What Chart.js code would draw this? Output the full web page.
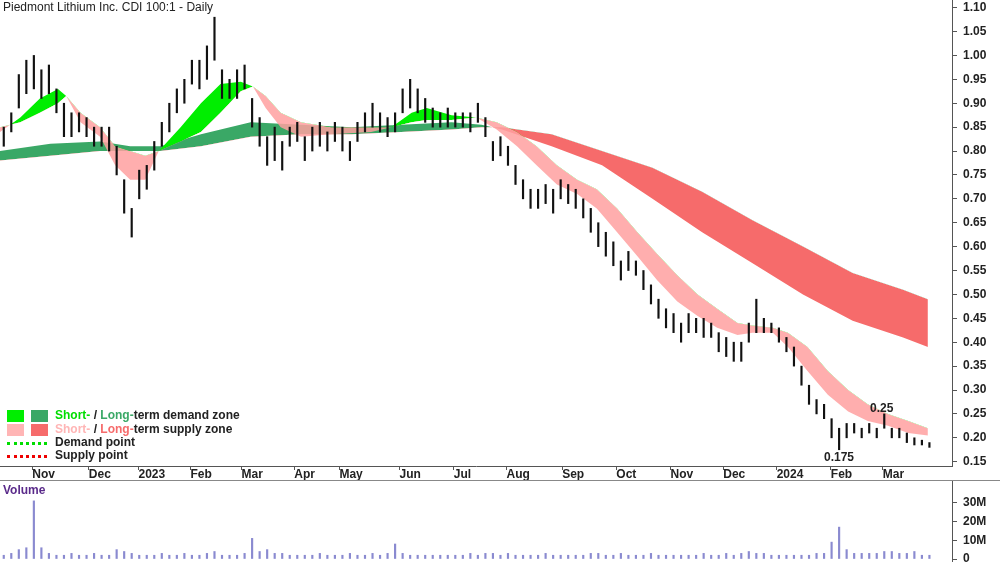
<!DOCTYPE html>
<html>
<head>
<meta charset="utf-8">
<script src="https://cdn.jsdelivr.net/npm/chart.js@4.4.0/dist/chart.umd.min.js"></script>
<style>
  body { margin: 0; background: #fff; font-family: "Liberation Sans", Arial, sans-serif; }
  #wrap { position: relative; width: 1000px; height: 562px; overflow: hidden; }
  #pricebox { position: absolute; left: 0; top: 0; width: 1000px; height: 480px; }
  #volbox { position: absolute; left: 0; top: 481px; width: 1000px; height: 81px; }
  #sep { position: absolute; left: 0; top: 480px; width: 1000px; height: 1px; background: #888; }
  .txt { position: absolute; font-size: 12px; white-space: nowrap; }
  .sq { position: absolute; width: 17px; height: 12px; }
  .dot { position: absolute; width: 40px; height: 0; border-top: 3px dotted; }
</style>
</head>
<body>
<div id="wrap">
  <div id="pricebox"><canvas id="price"></canvas></div>
  <div id="sep"></div>
  <div id="volbox"><canvas id="vol"></canvas></div>
  <div class="txt" style="left:3px;top:0px;color:#222">Piedmont Lithium Inc. CDI 100:1 - Daily</div>
  <div class="txt" style="left:3px;top:483px;color:#5a2a8a;font-weight:bold">Volume</div>
  <div class="txt" style="left:870px;top:401px;font-weight:bold;color:#222">0.25</div>
  <div class="txt" style="left:824px;top:450px;font-weight:bold;color:#222">0.175</div>

  <div class="sq" style="left:7px;top:410px;background:#00ee00"></div>
  <div class="sq" style="left:31px;top:410px;background:#3aa866"></div>
  <div class="txt" style="left:55px;top:408px;font-weight:bold;color:#222"><span style="color:#00dd00">Short-</span> / <span style="color:#3aa866">Long-</span>term demand zone</div>
  <div class="sq" style="left:7px;top:424px;background:#ffb5b5"></div>
  <div class="sq" style="left:31px;top:424px;background:#f66b6b"></div>
  <div class="txt" style="left:55px;top:422px;font-weight:bold;color:#222"><span style="color:#ffb5b5">Short-</span> / <span style="color:#f66b6b">Long-</span>term supply zone</div>
  <div class="dot" style="left:7px;top:442px;border-color:#00dd00"></div>
  <div class="txt" style="left:55px;top:435px;font-weight:bold;color:#222">Demand point</div>
  <div class="dot" style="left:7px;top:455px;border-color:#ee0000"></div>
  <div class="txt" style="left:55px;top:448px;font-weight:bold;color:#222">Supply point</div>
</div>
<script>
// Daily bars sampled every third session, index 0 = mid Oct 2022
const barLow = [0.81,0.84,0.89,0.92,0.93,0.91,0.92,0.88,0.83,0.83,0.84,0.83,0.81,0.81,0.80,0.75,0.67,0.62,0.70,0.72,
  0.76,0.81,0.84,0.88,0.90,0.94,0.93,0.95,0.99,0.91,0.91,0.91,0.93,0.85,0.81,0.77,0.78,0.76,0.81,0.82,
  0.78,0.80,0.81,0.80,0.82,0.80,0.78,0.82,0.84,0.85,0.84,0.83,0.84,0.88,0.89,0.88,0.86,0.85,0.85,0.85,
  0.85,0.85,0.84,0.86,0.83,0.78,0.79,0.77,0.73,0.70,0.68,0.68,0.69,0.67,0.70,0.69,0.68,0.66,0.63,0.60,
  0.58,0.56,0.53,0.55,0.54,0.51,0.48,0.45,0.43,0.42,0.40,0.42,0.42,0.41,0.41,0.38,0.37,0.36,0.36,0.40,
  0.42,0.42,0.42,0.40,0.38,0.35,0.31,0.27,0.25,0.24,0.20,0.175,0.20,0.21,0.20,0.21,0.20,0.22,0.20,0.20,
  0.19,0.185,0.185,0.18];
const barHigh = [0.85,0.88,0.96,0.99,1.00,0.97,0.98,0.93,0.90,0.88,0.88,0.87,0.85,0.85,0.85,0.81,0.74,0.68,0.76,0.77,
  0.82,0.86,0.90,0.93,0.95,0.99,0.99,1.02,1.08,0.97,0.95,0.97,0.98,0.91,0.87,0.83,0.85,0.82,0.85,0.86,
  0.83,0.85,0.86,0.84,0.86,0.85,0.82,0.86,0.88,0.90,0.88,0.87,0.88,0.93,0.95,0.93,0.91,0.89,0.88,0.89,
  0.88,0.88,0.88,0.90,0.87,0.82,0.83,0.81,0.77,0.74,0.72,0.72,0.73,0.72,0.74,0.73,0.72,0.70,0.68,0.65,
  0.63,0.61,0.57,0.59,0.57,0.55,0.52,0.49,0.47,0.46,0.44,0.46,0.45,0.45,0.44,0.42,0.41,0.40,0.40,0.44,
  0.49,0.45,0.44,0.43,0.41,0.39,0.35,0.31,0.28,0.27,0.24,0.22,0.23,0.23,0.22,0.23,0.22,0.25,0.22,0.22,
  0.21,0.20,0.195,0.19];
const volume = [2,3,5,6,31,6,3,2,2,3,2,2,3,2,2,5,4,3,2,2,
  2,3,2,2,3,2,2,3,4,2,2,2,3,11,4,5,3,3,2,2,
  2,2,3,2,2,2,3,2,2,3,2,3,8,3,2,2,2,2,2,2,
  2,2,3,2,3,3,2,3,2,2,2,2,3,2,2,2,2,2,3,3,
  2,2,3,2,2,2,3,2,2,2,2,2,2,3,2,2,3,2,3,4,
  3,3,2,2,2,2,2,2,3,3,9,17,5,3,3,3,3,4,4,3,
  3,4,2,2];

// ribbon edges as [index, value]
const shortFast = [[-0.5,0.84],[2.2,0.87],[4.8,0.91],[7.2,0.93],[8.3,0.915],[10.2,0.86],[12.8,0.83],[14.8,0.77],[16.8,0.74],[18.8,0.74],[20.6,0.80],
  [23.5,0.85],[26.2,0.90],[28.8,0.94],[31.5,0.945],[33.1,0.935],[34.8,0.89],[36.8,0.85],[39.5,0.83],[43.5,0.835],[48.8,0.84],[51.5,0.85],
  [54.2,0.88],[56.2,0.89],[59.5,0.875],[62.8,0.87],[65.5,0.845],[68.2,0.81],[70.8,0.77],[73.5,0.73],[76.2,0.71],[78.8,0.68],[81.5,0.63],
  [84.2,0.58],[86.8,0.53],[89.5,0.485],[92.2,0.455],[94.8,0.43],[97.5,0.415],[99.5,0.42],[102.2,0.42],[104.2,0.39],[106.8,0.34],
  [109.5,0.29],[112.2,0.255],[114.8,0.235],[117.5,0.225],[120.2,0.21],[122.8,0.205]];
const shortSlow = [[-0.5,0.85],[2.2,0.86],[4.8,0.88],[7.2,0.90],[8.3,0.915],[10.2,0.88],[12.8,0.85],[14.8,0.81],[16.8,0.80],[18.8,0.79],[20.6,0.80],
  [23.5,0.82],[26.2,0.84],[28.8,0.88],[31.5,0.925],[33.1,0.935],[34.8,0.915],[36.8,0.88],[39.5,0.86],[43.5,0.85],[48.8,0.85],[51.5,0.85],
  [54.2,0.86],[56.2,0.865],[59.5,0.865],[62.8,0.87],[65.5,0.86],[68.2,0.84],[70.8,0.81],[73.5,0.77],[76.2,0.74],[78.8,0.72],[81.5,0.68],
  [84.2,0.63],[86.8,0.585],[89.5,0.54],[92.2,0.50],[94.8,0.47],[97.5,0.44],[99.5,0.435],[102.2,0.43],[104.2,0.42],[106.8,0.39],
  [109.5,0.34],[112.2,0.30],[114.8,0.27],[117.5,0.25],[120.2,0.235],[122.8,0.22]];
const longFast = [[-0.5,0.80],[6.2,0.815],[12.8,0.82],[16.8,0.81],[20.8,0.81],[26.2,0.835],[32.8,0.86],[39.5,0.855],[46.2,0.85],[52.8,0.855],
  [59.5,0.86],[63.5,0.855],[66.2,0.845],[72.8,0.81],[79.5,0.77],[86.2,0.70],[92.8,0.63],[99.5,0.565],[106.2,0.50],[112.8,0.445],[119.5,0.41],[122.8,0.39]];
const longSlow = [[-0.5,0.78],[6.2,0.79],[12.8,0.80],[16.8,0.80],[20.8,0.80],[26.2,0.81],[32.8,0.83],[39.5,0.835],[46.2,0.835],[52.8,0.84],
  [59.5,0.845],[63.5,0.85],[66.2,0.85],[72.8,0.835],[79.5,0.80],[86.2,0.765],[92.8,0.715],[99.5,0.655],[106.2,0.60],[112.8,0.545],[119.5,0.51],[122.8,0.49]];

const monthPos = [3.8,11.3,17.9,24.8,31.6,38.6,44.6,52.6,59.8,66.8,74.2,81.4,88.6,95.6,102.7,109.9,116.8];
const monthNames = ['Nov','Dec','2023','Feb','Mar','Apr','May','Jun','Jul','Aug','Sep','Oct','Nov','Dec','2024','Feb','Mar'];
const priceTicks = [0.15,0.20,0.25,0.30,0.35,0.40,0.45,0.50,0.55,0.60,0.65,0.70,0.75,0.80,0.85,0.90,0.95,1.00,1.05,1.10];
const volTicks = [0,10,20,30];

const pts = arr => arr.map(p => ({ x: p[0], y: p[1] }));
const font = { family: '"Liberation Sans", Arial, sans-serif', size: 12, weight: 'bold' };
const X_MIN = -0.5, X_MAX = 126;
const noPad = s => { s.paddingTop = 0; s.paddingBottom = 0; s.paddingLeft = 0; s.paddingRight = 0; };

new Chart(document.getElementById('price'), {
  data: {
    datasets: [
      { type: 'bar', data: barLow.map((l, i) => ({ x: i, y: [l, barHigh[i]] })), backgroundColor: '#111', barThickness: 1.5, order: 0 },
      { type: 'line', data: pts(longSlow), borderWidth: 0, pointRadius: 0, order: 4 },
      { type: 'line', data: pts(longFast), borderWidth: 0, pointRadius: 0, order: 3,
        fill: { target: 1, above: '#3aa866', below: '#f66b6b' } },
      { type: 'line', data: pts(shortSlow), borderWidth: 0, pointRadius: 0, order: 2 },
      { type: 'line', data: pts(shortFast), borderWidth: 0, pointRadius: 0, order: 1,
        fill: { target: 3, above: '#00ee00', below: 'rgba(255,160,160,0.85)' } }
    ]
  },
  options: {
    responsive: true, maintainAspectRatio: false, animation: false,
    layout: { padding: 0 },
    plugins: { legend: { display: false }, tooltip: { enabled: false } },
    scales: {
      x: {
        type: 'linear', min: X_MIN, max: X_MAX, offset: false,
        afterBuildTicks: s => { s.ticks = monthPos.map(v => ({ value: v })); },
        afterFit: s => { s.height = 14; noPad(s); },
        ticks: { callback: (v, i) => monthNames[i], align: 'start', padding: -3, autoSkip: false, maxRotation: 0, color: '#222', font },
        grid: { drawOnChartArea: false, offset: false, tickLength: 4, color: '#555' },
        border: { color: '#555' }
      },
      y: {
        position: 'right', min: 0.141, max: 1.116,
        afterBuildTicks: s => { s.ticks = priceTicks.map(v => ({ value: v })); },
        afterFit: s => { s.width = 48; noPad(s); },
        ticks: { callback: v => v.toFixed(2), color: '#222', font, padding: 6 },
        grid: { drawOnChartArea: false, tickLength: 5, color: '#555' },
        border: { color: '#555' }
      }
    }
  }
});

new Chart(document.getElementById('vol'), {
  type: 'bar',
  data: { datasets: [{ data: volume.map((v, i) => ({ x: i, y: v })), backgroundColor: '#8a8ad0', barThickness: 1.5 }] },
  options: {
    responsive: true, maintainAspectRatio: false, animation: false,
    layout: { padding: 0 },
    plugins: { legend: { display: false }, tooltip: { enabled: false } },
    scales: {
      x: { type: 'linear', min: X_MIN, max: X_MAX, offset: false, display: false },
      y: {
        position: 'right', min: -1.6, max: 41.6,
        afterBuildTicks: s => { s.ticks = volTicks.map(v => ({ value: v })); },
        afterFit: s => { s.width = 48; noPad(s); },
        ticks: { callback: v => v === 0 ? '0' : v + 'M', color: '#222', font, padding: 6 },
        grid: { drawOnChartArea: false, tickLength: 5, color: '#555' },
        border: { color: '#555' }
      }
    }
  }
});
</script>
</body>
</html>
